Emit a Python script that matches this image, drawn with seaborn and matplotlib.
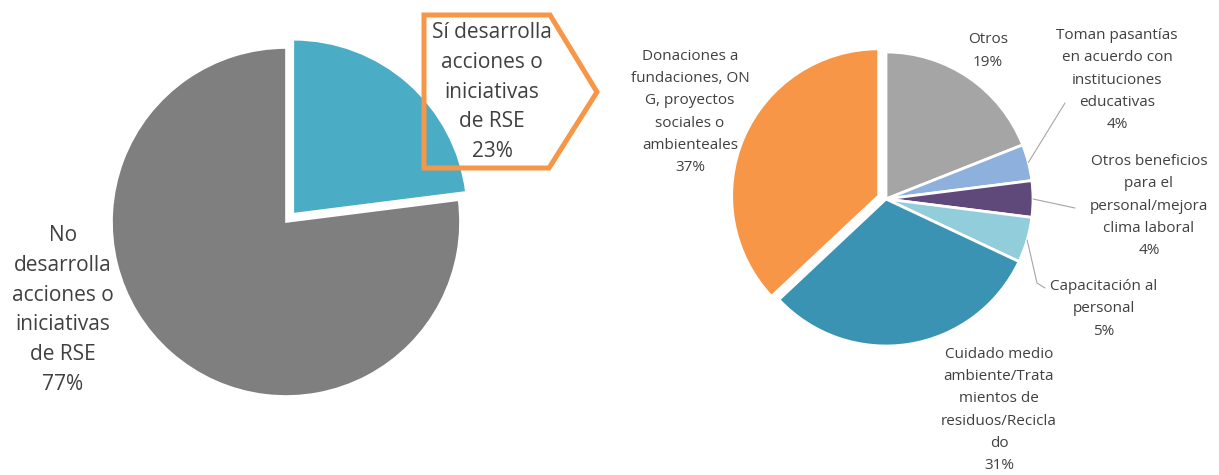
import matplotlib.pyplot as plt
import seaborn as sns
import numpy as np
from matplotlib.patches import Polygon

# Data
rse_labels = ["Sí desarrolla\nacciones o\niniciativas\nde RSE",
              "No\ndesarrolla\nacciones o\niniciativas\nde RSE"]
rse_values = [23, 77]

action_labels = ["Otros",
                 "Toman pasantías\nen acuerdo con\ninstituciones\neducativas",
                 "Otros beneficios\npara el\npersonal/mejora\nclima laboral",
                 "Capacitación al\npersonal",
                 "Cuidado medio\nambiente/Trata\nmientos de\nresiduos/Recicla\ndo",
                 "Donaciones a\nfundaciones, ON\nG, proyectos\nsociales o\nambienteales"]
action_values = [19, 4, 4, 5, 31, 37]

# Styles
rse_colors = ["#4BACC6", "#7F7F7F"]
action_colors = ["#A5A5A5", "#8EB0DC", "#5F497A", "#92CDDC", "#3A93B3", "#F79646"]
text_color = "#404040"

sns.set_theme(style="white")
plt.rcParams["font.family"] = ["Open Sans", "DejaVu Sans"]

W, H = 1219, 475
fig = plt.figure(figsize=(W / 100, H / 100), dpi=100)
ax = fig.add_axes([0, 0, 1, 1])

# Left pie
left_wedges, _ = ax.pie(rse_values, colors=rse_colors, startangle=90,
                        counterclock=False, explode=[11, 0],
                        center=(286, 253), radius=174,
                        wedgeprops=dict(edgecolor="white", linewidth=1.2))

# Right pie
right_wedges, _ = ax.pie(action_values, colors=action_colors, startangle=90,
                         counterclock=False, explode=[0, 0, 0, 0, 0, 8],
                         center=(886, 276), radius=147,
                         wedgeprops=dict(edgecolor="white", linewidth=2))

ax.set_xlim(0, W)
ax.set_ylim(0, H)
ax.set_aspect("equal")
ax.axis("off")

# Left labels
rse_pos = [(492, 383), (63, 165)]
for lab, val, pos in zip(rse_labels, rse_values, rse_pos):
    ax.text(pos[0], pos[1], f"{lab}\n{val}%", ha="center", va="center",
            fontsize=15, color=text_color, linespacing=1.55)

# Callout arrow shape around "Sí" label
callout = Polygon([(424, 460), (550, 460), (597, 383), (549, 307), (424, 307)],
                  closed=True, fill=False, edgecolor="#F79646",
                  linewidth=3.6, joinstyle="miter")
ax.add_patch(callout)

# Right labels
action_pos = [(988, 424), (1117, 395), (1149, 269), (1104, 166), (999, 65), (690, 363)]
for lab, val, pos in zip(action_labels, action_values, action_pos):
    ax.text(pos[0], pos[1], f"{lab}\n{val}%", ha="center", va="center",
            fontsize=11, color=text_color, linespacing=1.66)

# Leader lines from wedge edge to label
leader_paths = {1: [(1065, 372)],
                2: [(1075, 267)],
                3: [(1037, 192), (1045, 187)]}
for idx, pts in leader_paths.items():
    w = right_wedges[idx]
    mid = np.deg2rad((w.theta1 + w.theta2) / 2)
    start = (w.center[0] + w.r * np.cos(mid), w.center[1] + w.r * np.sin(mid))
    xs = [start[0]] + [p[0] for p in pts]
    ys = [start[1]] + [p[1] for p in pts]
    ax.plot(xs, ys, color="#A6A6A6", linewidth=0.8)

plt.savefig("out.png", dpi=100)
plt.close()
